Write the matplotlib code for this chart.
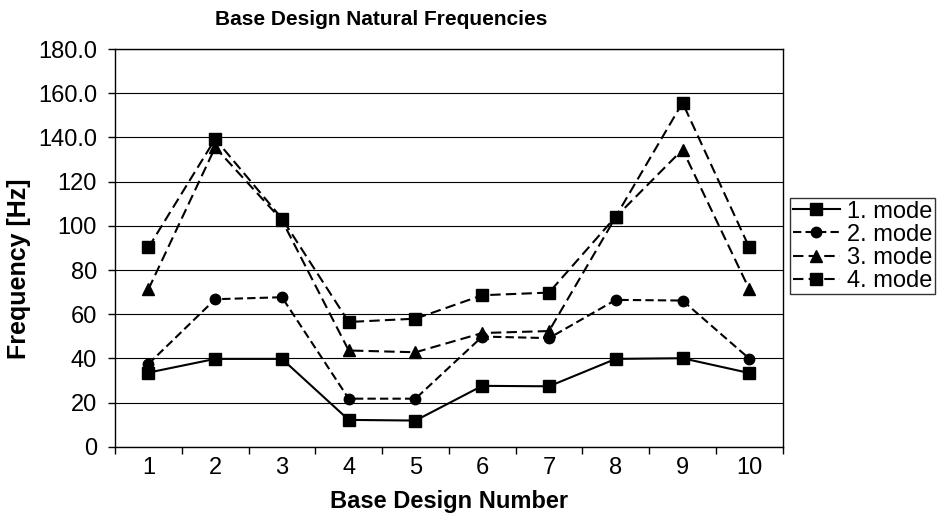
import matplotlib
matplotlib.use("Agg")
import matplotlib.pyplot as plt
import numpy as np


DESIGNS = [1, 2, 3, 4, 5, 6, 7, 8, 9, 10]
MODE_1 = [33.6, 39.8, 39.8, 12.2, 11.9, 27.6, 27.4, 39.8, 40.1, 33.4]
MODE_2 = [37.5, 66.8, 67.7, 21.8, 21.8, 49.9, 49.2, 66.5, 66.2, 39.9]
MODE_3 = [71.3, 135.5, 102.5, 43.6, 42.8, 51.5, 52.4, 104.0, 134.5, 71.3]
MODE_4 = [90.2, 139.3, 103.3, 56.5, 58.0, 68.6, 69.8, 104.2, 155.7, 90.2]
MODE_LABELS = ["1. mode", "2. mode", "3. mode", "4. mode"]
Y_TICKS = [0, 20, 40, 60, 80, 100, 120, 140, 160, 180]
Y_TICK_LABELS = ["0", "20", "40", "60", "80", "100", "120", "140.0", "160.0", "180.0"]

plt.rcParams["font.family"] = ["Liberation Sans", "DejaVu Sans"]

fig = plt.figure(figsize=(9.43, 5.16), dpi=100)
ax = fig.add_axes([0.122, 0.134, 0.708, 0.771])

styles = [
    dict(marker="s", linestyle="-", markersize=8),
    dict(marker="o", linestyle=(0, (4, 2)), markersize=7.5),
    dict(marker="^", linestyle=(0, (5, 2.5)), markersize=8),
    dict(marker="s", linestyle=(0, (5, 2.5)), markersize=8),
]
series = [MODE_1, MODE_2, MODE_3, MODE_4]

for values, label, style in zip(series, MODE_LABELS, styles):
    ax.plot(DESIGNS, values, color="black", linewidth=1.5, markerfacecolor="black",
            markeredgecolor="black", label=label, **style)

ax.set_xlim(0.5, 10.5)
ax.set_ylim(0, 180)
ax.set_xticks(DESIGNS)
ax.set_xticklabels([str(d) for d in DESIGNS], fontsize=17)
ax.set_xticks(np.arange(0.5, 11, 1), minor=True)
ax.tick_params(axis="x", which="major", length=0, pad=7)
ax.tick_params(axis="x", which="minor", length=5, width=1, direction="out")
ax.set_yticks(Y_TICKS)
ax.set_yticklabels(Y_TICK_LABELS, fontsize=17)
ax.tick_params(axis="y", length=5, width=1, direction="out", pad=8)

ax.grid(axis="y", color="black", linewidth=0.8)
ax.set_axisbelow(True)
for spine in ax.spines.values():
    spine.set_color("black")
    spine.set_linewidth(1.0)

ax.set_xlabel("Base Design Number", fontsize=17, fontweight="bold", labelpad=8)
fig.text(0.02, 0.48, "Frequency [Hz]", fontsize=18, fontweight="bold",
         rotation=90, ha="center", va="center")
fig.text(0.404, 0.962, "Base Design Natural Frequencies", fontsize=15,
         fontweight="bold", ha="center", va="center")

legend = ax.legend(loc="upper left", bbox_to_anchor=(0.838, 0.616),
                   bbox_transform=fig.transFigure, borderaxespad=0,
                   fontsize=17, frameon=True, fancybox=False,
                   edgecolor="black", handlelength=2.0, handletextpad=0.3,
                   borderpad=0.1, labelspacing=0.05)
legend.get_frame().set_linewidth(1.0)

fig.savefig("out.png", dpi=100)
